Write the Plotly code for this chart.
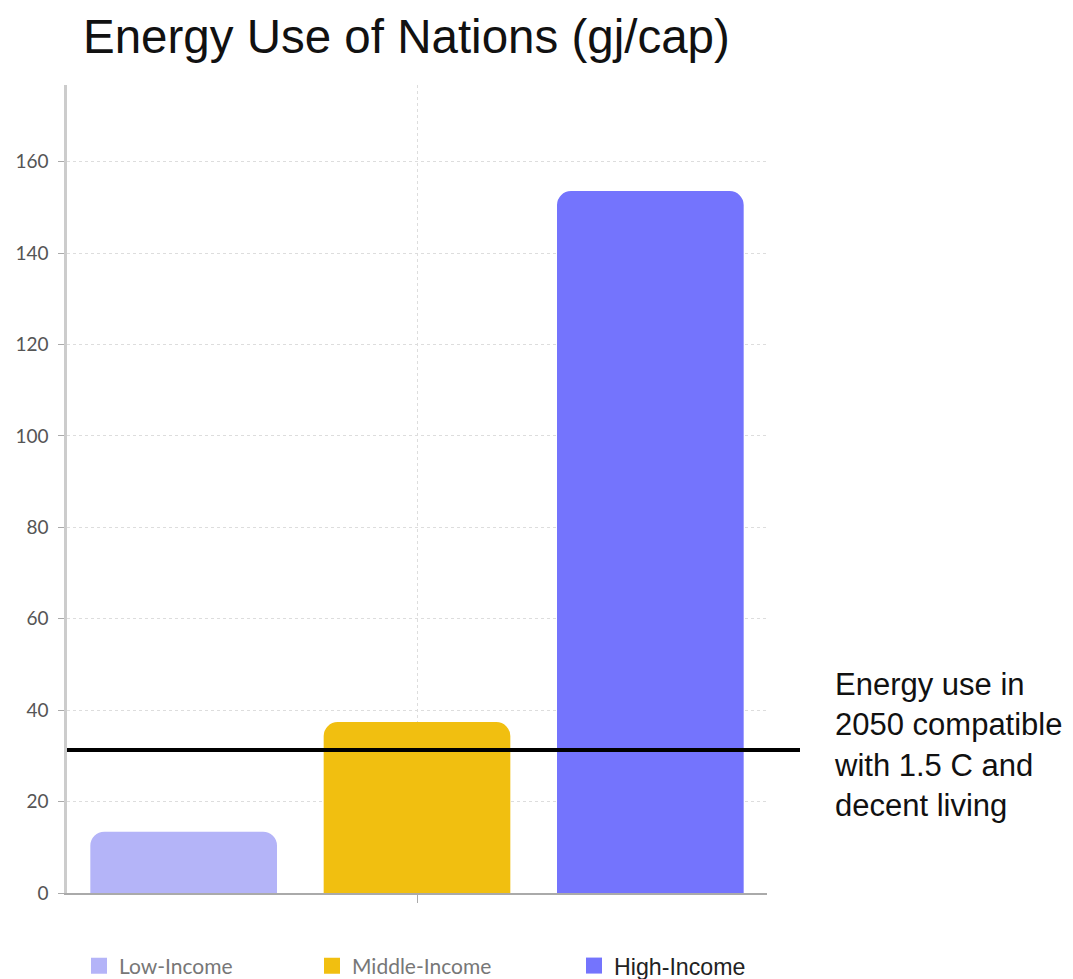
import plotly.graph_objects as go

categories = [""]
series_names = ["Low-Income", "Middle-Income", "High-Income"]
series_values = [[13.4], [37.4], [153.6]]
series_colors = ["#b4b4f8", "#f1bf10", "#7474fd"]
threshold_value = 31.3
threshold_label = "Energy use in<br>2050 compatible<br>with 1.5 C and<br>decent living"
title_text = "Energy Use of Nations (gj/cap)"
y_ticks = [0, 20, 40, 60, 80, 100, 120, 140, 160]

# page body has an 8px margin; figure coordinates = reference pixels - 8
OFF = 8
W, H = 1065, 971
ml, mt = 67 - OFF, 85 - OFF
plot_right, plot_bottom = 767 - OFF, 893 - OFF
mr, mb = W - plot_right, H - plot_bottom
pw = plot_right - ml
ph = plot_bottom - mt


def px_x(px):
    return (px - OFF - ml) / pw


fig = go.Figure()
legend_ids = ["legend", "legend2", "legend3"]
for name, vals, col in zip(series_names, series_values, series_colors):
    fig.add_trace(go.Bar(x=categories, y=vals, name=name,
                         marker=dict(color=col, line=dict(width=0)), showlegend=False))

# legend-only entries (larger square swatches)
for name, col, lg in zip(series_names, series_colors, legend_ids):
    fig.add_trace(go.Scatter(x=[None], y=[None], mode="markers", name=name, legend=lg,
                             marker=dict(symbol="square", size=20, color=col, line=dict(width=0)),
                             showlegend=True, hoverinfo="skip"))

fig.add_shape(type="line", xref="paper", yref="y", x0=0, x1=px_x(800),
              y0=threshold_value, y1=threshold_value, line=dict(color="black", width=4), layer="above")

fig.add_annotation(text=threshold_label, xref="paper", yref="paper",
                   x=(824 - ml) / pw, y=(plot_bottom - 657) / ph, xanchor="left", yanchor="top",
                   showarrow=False, align="left",
                   font=dict(family="Liberation Sans, Arial", size=31, color="#111"))

leg_font = dict(family="Lato", size=21, color="#777")
leg_common = dict(orientation="h", xanchor="left", yanchor="middle", bgcolor="rgba(0,0,0,0)",
                  itemwidth=30, tracegroupgap=0)
leg_y = (plot_bottom - (966 - OFF)) / ph
fig.update_layout(
    legend=dict(x=(71 - ml) / pw, y=leg_y, font=leg_font, **leg_common),
    legend2=dict(x=(304 - ml) / pw, y=leg_y, font=leg_font, **leg_common),
    legend3=dict(x=(566 - ml) / pw, y=leg_y,
                 font=dict(family="Liberation Sans, Arial", size=23.2, color="#222"), **leg_common),
)

fig.update_layout(
    width=W, height=H,
    margin=dict(l=ml, r=mr, t=mt, b=mb, pad=0, autoexpand=False),
    paper_bgcolor="white", plot_bgcolor="white",
    title=dict(text=title_text, x=(83 - OFF) / W, xanchor="left", y=1 - (53 - OFF) / H,
               yanchor="bottom",
               font=dict(family="Liberation Sans, Arial", size=47.5, color="#111")),
    barmode="group", bargap=0.0, bargroupgap=0.2, barcornerradius=14,
    xaxis=dict(showgrid=True, gridcolor="#dddddd", griddash="dot", gridwidth=1,
               showline=True, linecolor="#aaaaaa", linewidth=1.5,
               ticks="outside", ticklen=8, tickcolor="#aaaaaa", showticklabels=False,
               range=[-0.5, 0.5], zeroline=False),
    yaxis=dict(range=[0, 176.8], tickvals=y_ticks, showgrid=True, gridcolor="#dddddd",
               griddash="dot", gridwidth=1, showline=True, linecolor="#cccccc", linewidth=2.5,
               ticks="outside", ticklen=6, tickcolor="#aaaaaa", ticklabelstandoff=6,
               tickfont=dict(family="Lato", size=19, color="#555"), zeroline=False),
)

fig.write_html("out.html")
